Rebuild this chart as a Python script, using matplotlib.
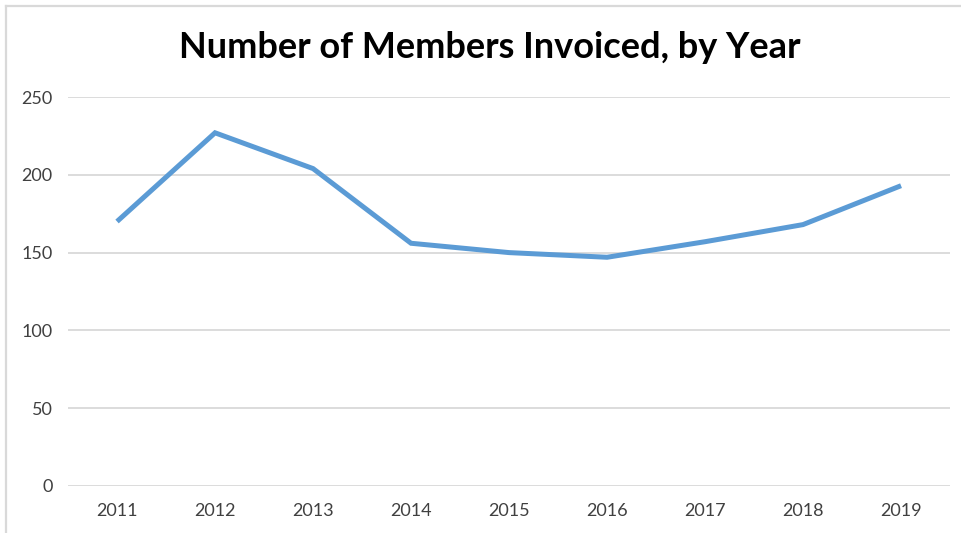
import matplotlib.pyplot as plt
from matplotlib.lines import Line2D

years = ['2011', '2012', '2013', '2014', '2015', '2016', '2017', '2018', '2019']
members = [170, 227, 204, 156, 150, 147, 157, 168, 193]
y_ticks = [0, 50, 100, 150, 200, 250]

plt.rcParams['font.family'] = ['Lato', 'DejaVu Sans']

fig = plt.figure(figsize=(9.61, 5.33), dpi=100)
ax = fig.add_axes([0.0708, 0.0882, 0.9178, 0.7298])

x = list(range(len(years)))
ax.plot(x, members, color='#5B9BD5', linewidth=3.6, solid_joinstyle='miter',
        solid_capstyle='butt', zorder=3)

ax.set_xlim(-0.5, len(years) - 0.5)
ax.set_ylim(0, 250)
ax.set_xticks(x)
ax.set_xticklabels(years)
ax.set_yticks(y_ticks)

ax.grid(axis='y', color='#D9D9D9', linewidth=1.3)
ax.set_axisbelow(True)
for side in ['top', 'right', 'left', 'bottom']:
    ax.spines[side].set_visible(False)
ax.tick_params(axis='both', length=0, labelsize=13, labelcolor='#404040')
ax.tick_params(axis='x', pad=12)
ax.tick_params(axis='y', pad=11)

fig.text(0.51, 0.91, 'Number of Members Invoiced, by Year', ha='center', va='center',
         fontsize=26, fontweight='bold', color='black')

# thin frame along the top and left edges
fig.add_artist(Line2D([0.0062, 1.0], [0.989, 0.989], color='#D9D9D9', linewidth=1.6,
                      transform=fig.transFigure))
fig.add_artist(Line2D([0.0062, 0.0062], [0.0, 0.989], color='#D9D9D9', linewidth=1.6,
                      transform=fig.transFigure))

fig.savefig('out.png', dpi=100)
